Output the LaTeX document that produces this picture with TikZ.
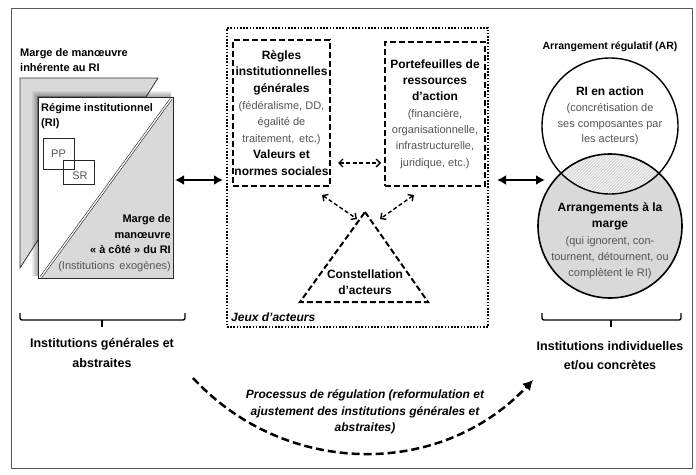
\documentclass[tikz,border=0pt]{standalone}
\usepackage{fontspec}
\setmainfont{Liberation Sans}
\usetikzlibrary{arrows.meta,patterns,calc}
\definecolor{tg}{gray}{0.33}
\definecolor{fillg}{gray}{0.85}
\newcommand\Bt{\fontsize{12}{16.4}\selectfont\bfseries}
\newcommand\Bs{\fontsize{11}{15.5}\selectfont\bfseries}
\newcommand\Gt{\fontsize{11}{16.4}\selectfont\mdseries\color{tg}}
\newcommand\Gs{\fontsize{11}{15.5}\selectfont\mdseries\color{tg}}
\begin{document}
\begin{tikzpicture}[x=1pt,y=-1pt,
 dbox/.style={draw, line width=2pt, dash pattern=on 6pt off 3pt},
 dotbox/.style={draw, line width=1.8pt, dash pattern=on 1.6pt off 1.6pt},
 thickarr/.style={line width=2.4pt, {Latex[length=9pt,width=10pt]}-{Latex[length=9pt,width=10pt]}},
 dasharr/.style={line width=1.4pt, dash pattern=on 4pt off 2.5pt, {Straight Barb[length=4pt,width=8pt]}-{Straight Barb[length=4pt,width=8pt]}},
 txt/.style={inner sep=0pt, align=center},
 bracestyle/.style={line width=1.4pt, rounded corners=2pt},
]
\useasboundingbox (0,0) rectangle (696,474);
\fill[white] (0,0) rectangle (696,474);
\draw[black!65, line width=1pt] (11,8) rectangle (692,468);

% ---------- left panel ----------
\node[txt, anchor=west, align=left, font=\Bs] (margeinh) at (20,60) {Marge de manœuvre\\inhérente au RI};
\filldraw[fill=fillg, draw=black!80, line width=0.8pt] (20,78) -- (158,78) -- (146,97) -- (38,97) -- (38,240) -- (20,268) -- cycle;
\foreach \s in {1,...,6} \fill[black, opacity=0.06] (38-\s,97-\s) rectangle (171,276);
\fill[white] (38,97) rectangle (173,278);
\fill[fillg] (173,97) -- (173,278) -- (42,278) -- cycle;
\draw[black!85, line width=1pt] (38,97) rectangle (173,278);
\draw[black!85, line width=0.6pt, double=white, double distance=1.3pt] (171,99) -- (41,277);
\node[txt, anchor=west, align=left, font=\Bs] (regime) at (41,116) {Régime institutionnel\\(RI)};
\node[draw=black!85, line width=0.8pt, minimum width=31pt, minimum height=31pt, inner sep=0pt, font=\Gs] (pp) at (58.5,153.5) {PP};
\node[draw=black!85, line width=0.8pt, minimum width=31pt, minimum height=24pt, inner sep=0pt] (sr) at (78.5,172) {};
\node[txt, font=\Gs] (srtxt) at (80,176) {SR};
\node[txt, anchor=east, align=right, font=\Bs] (margecote) at (171,243) {Marge de\\manœuvre\\« à côté » du RI\\{\Gs (Institutions\, exogènes)}};

% left arrow
\coordinate (la1) at (175,180);
\coordinate (la2) at (223,180);
\draw[thickarr] (la1) -- (la2);

% left brace
\coordinate (lb1) at (20,313);
\coordinate (lbm) at (102,320);
\coordinate (lb2) at (185,313);
\draw[bracestyle] (lb1) |- (lbm) -| (lb2);
\draw[line width=1.6pt] (lbm) -- ++(0,7);
\node[txt, font=\fontsize{12.5}{19.5}\selectfont\bfseries] (instgen) at (102,353) {Institutions générales et\\abstraites};

% ---------- middle ----------
\node[dotbox, minimum width=261pt, minimum height=299pt, inner sep=0pt] (jeux) at (357.5,177.5) {};
\node[txt, anchor=west, font=\fontsize{12}{14}\selectfont\bfseries\itshape] (jeuxtxt) at (231,317) {Jeux d’acteurs};

\node[dbox, minimum width=97pt, minimum height=146pt, inner sep=0pt, align=center, font=\fontsize{11}{16.6}\selectfont] (regles) at (281.5,113)
 {{\Bt Règles}\\{\Bt institutionnelles}\\{\Bt générales}\\{\Gt (fédéralisme, DD,}\\{\Gt égalité de}\\{\Gt traitement,\, etc.)}\\{\Bt Valeurs et}\\{\Bt normes sociales}};

\node[dbox, minimum width=100pt, minimum height=144pt, inner sep=0pt, align=center, font=\fontsize{11}{16.3}\selectfont] (portef) at (435,114)
 {{\Bt Portefeuilles de}\\{\Bt ressources}\\{\Bt d’action}\\{\Gt (financière,}\\{\Gt organisationnelle,}\\{\Gt infrastructurelle,}\\{\Gt juridique, etc.)}};

\coordinate (t1) at (365,212);
\coordinate (t2) at (428,302);
\coordinate (t3) at (300,302);
\draw[dbox, line join=miter] (t1) -- (t2) -- (t3) -- cycle;
\node[txt, font=\fontsize{12}{16.5}\selectfont\bfseries] (const) at (365,282) {Constellation\\d’acteurs};

\coordinate (d1) at (338,163);
\coordinate (d2) at (381,163);
\draw[dasharr] (d1) -- (d2);
\coordinate (d3) at (322,195);
\coordinate (d4) at (357,219);
\draw[dasharr] (d3) -- (d4);
\coordinate (d5) at (414,195);
\coordinate (d6) at (380,219);
\draw[dasharr] (d5) -- (d6);

% right arrow
\coordinate (ra1) at (497,180);
\coordinate (ra2) at (545,180);
\draw[thickarr] (ra1) -- (ra2);

% ---------- right panel ----------
\node[txt, font=\fontsize{10.5}{13}\selectfont\bfseries] (arrtitle) at (610,47) {Arrangement régulatif (AR)};
\coordinate (ctop) at (610,126);
\coordinate (cbot) at (610,226);
\fill[fillg] (cbot) circle (72);
\begin{scope}
 \clip (ctop) circle (68);
 \fill[pattern=north east lines, pattern color=white] (cbot) circle (72);
\end{scope}
\draw[line width=1.6pt] (cbot) circle (72);
\draw[line width=1.4pt] (ctop) circle (68);
\node[txt, font=\fontsize{11}{15.8}\selectfont] (riaction) at (610,116)
 {{\Bt RI en action}\\{\Gt (concrétisation de}\\{\Gt ses composantes par}\\{\Gt les acteurs)}};
\node[txt, font=\fontsize{11}{16.3}\selectfont] (arrmarge) at (610,241)
 {{\Bt Arrangements à la}\\{\Bt marge}\\{\Gt (qui ignorent, con-}\\{\Gt tournent, détournent, ou}\\{\Gt complètent le RI)}};

\coordinate (rb1) at (542,313);
\coordinate (rbm) at (611,320);
\coordinate (rb2) at (681,313);
\draw[bracestyle] (rb1) |- (rbm) -| (rb2);
\draw[line width=1.6pt] (rbm) -- ++(0,7);
\node[txt, font=\fontsize{12.5}{19}\selectfont\bfseries] (instind) at (610,356) {Institutions individuelles\\et/ou concrètes};

% ---------- bottom arc ----------
\coordinate (pa) at (193,378);
\coordinate (pb) at (533,380);
\draw[line width=2.5pt, dash pattern=on 8pt off 4pt, -{Latex[length=10pt,width=11pt]}] (pa) .. controls (285,477) and (440,479) .. (pb);
\node[txt, font=\fontsize{12}{16.5}\selectfont\bfseries\itshape] (proc) at (365,412)
 {Processus de régulation (reformulation et\\ajustement des institutions générales et\\abstraites)};
\end{tikzpicture}
\end{document}
